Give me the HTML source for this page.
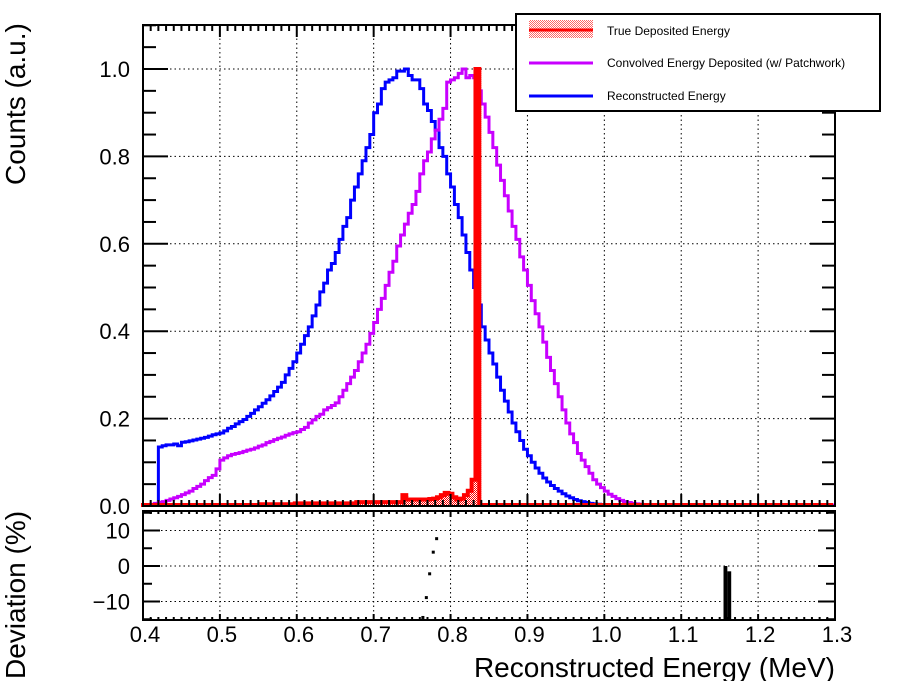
<!DOCTYPE html>
<html><head><meta charset="utf-8">
<style>
html,body{margin:0;padding:0;background:#fff;}
svg{display:block;font-family:"Liberation Sans",sans-serif;}
</style></head>
<body>
<svg id="chart" width="898" height="681" viewBox="0 0 898 681" xmlns="http://www.w3.org/2000/svg">
<defs>
<pattern id="hatch" width="2" height="2" patternUnits="userSpaceOnUse">
<rect width="2" height="2" fill="#fff"/><rect width="1" height="1" fill="#f00"/><rect x="1" y="1" width="1" height="1" fill="#f00"/>
</pattern>
</defs>
<rect width="898" height="681" fill="#fff"/>
<g id="grid"></g>
<g id="hists"></g>
<g id="axes"></g>
<g id="legend">
<rect x="516" y="14" width="364" height="97" fill="#fff" stroke="#000" stroke-width="2"/>
<g>
<rect x="529" y="20" width="64" height="18" fill="url(#hatch)" opacity="0.6"/>
<line x1="529" y1="30" x2="593" y2="30" stroke="#f00" stroke-width="3"/>
<text x="607" y="35" font-size="12">True Deposited Energy</text>
</g>
<g>
<line x1="529" y1="63" x2="593" y2="63" stroke="#c800ff" stroke-width="3"/>
<text x="607" y="67" font-size="12">Convolved Energy Deposited (w/ Patchwork)</text>
</g>
<g>
<line x1="529" y1="96" x2="593" y2="96" stroke="#0000ff" stroke-width="3"/>
<text x="607" y="100" font-size="12">Reconstructed Energy</text>
</g>
</g>
<text x="25" y="185" font-size="28" transform="rotate(-90 25 185)">Counts (a.u.)</text>
<text x="25" y="679" font-size="28" transform="rotate(-90 25 679)">Deviation (%)</text>
<text x="835" y="677" font-size="28" text-anchor="end">Reconstructed Energy (MeV)</text>
</svg>
<script>
const binStart = 0.4, binWidth = 0.005;
const blueVals = [0,0,0,0,0.135,0.138,0.14,0.14,0.142,0.138,0.146,0.147,0.149,0.151,0.153,0.155,0.157,0.16,0.163,0.165,
0.167,0.172,0.178,0.182,0.188,0.193,0.198,0.205,0.212,0.22,0.227,0.235,0.243,0.252,0.262,0.272,0.283,0.3,0.315,0.33,
0.35,0.37,0.39,0.41,0.435,0.46,0.49,0.51,0.54,0.555,0.58,0.61,0.64,0.66,0.7,0.73,0.76,0.79,0.82,0.85,
0.9,0.92,0.955,0.97,0.975,0.98,0.995,0.995,1.0,0.985,0.975,0.975,0.955,0.92,0.905,0.88,0.86,0.82,0.8,0.76,
0.73,0.69,0.66,0.62,0.58,0.54,0.5,0.46,0.41,0.38,0.35,0.325,0.295,0.265,0.24,0.215,0.19,0.17,0.15,0.13,
0.115,0.1,0.087,0.075,0.064,0.055,0.047,0.04,0.034,0.028,0.023,0.019,0.015,0.012,0.01,0.008,0.006,0.005,0.004,0.003,
0.002,0.002,0.001,0.001,0,0,0,0,0,0,0,0,0,0,0,0,0,0,0,0,
0,0,0,0,0,0,0,0,0,0,0,0,0,0,0,0,0,0,0,0,
0,0,0,0,0,0,0,0,0,0,0,0,0,0,0,0,0,0,0,0];
const purpleVals = [0,0.002,0.004,0.006,0.008,0.01,0.013,0.016,0.019,0.022,0.026,0.03,0.034,0.04,0.045,0.05,0.058,0.065,0.07,0.085,
0.105,0.11,0.115,0.118,0.12,0.122,0.125,0.128,0.13,0.133,0.137,0.14,0.145,0.148,0.152,0.155,0.158,0.162,0.165,0.168,
0.17,0.175,0.18,0.19,0.197,0.205,0.21,0.22,0.225,0.23,0.236,0.25,0.265,0.28,0.295,0.31,0.33,0.35,0.37,0.395,
0.42,0.45,0.475,0.505,0.535,0.56,0.595,0.62,0.645,0.67,0.69,0.72,0.76,0.79,0.81,0.84,0.86,0.885,0.91,0.97,
0.975,0.98,0.99,1.0,0.98,0.985,0.98,0.95,0.92,0.89,0.855,0.82,0.78,0.745,0.71,0.675,0.64,0.61,0.57,0.54,
0.505,0.47,0.44,0.41,0.375,0.34,0.31,0.28,0.25,0.22,0.19,0.165,0.145,0.12,0.105,0.09,0.075,0.06,0.05,0.042,
0.034,0.027,0.022,0.017,0.013,0.01,0.008,0.006,0.005,0.004,0.003,0.002,0.001,0.001,0,0,0,0,0,0,
0,0,0,0,0,0,0,0,0,0,0,0,0,0,0,0,0,0,0,0,
0,0,0,0,0,0,0,0,0,0,0,0,0,0,0,0,0,0,0,0];
const redVals = [0,0,0,0,0,0,0.001,0.001,0.001,0.001,0.001,0.001,0.001,0.001,0.001,0.001,0.001,0.001,0.001,0.001,
0.001,0.001,0.001,0.001,0.001,0.001,0.001,0.001,0.001,0.001,0.001,0.004,0.004,0.004,0.004,0.004,0.004,0.004,0.004,0.004,
0.006,0.006,0.006,0.006,0.006,0.006,0.006,0.006,0.006,0.006,0.006,0.006,0.006,0.006,0.006,0.006,0.009,0.009,0.009,0.009,
0.009,0.009,0.009,0.009,0.009,0.009,0.009,0.009,0.025,0.015,0.015,0.015,0.015,0.015,0.015,0.016,0.017,0.02,0.025,0.03,
0.028,0.02,0.015,0.017,0.025,0.035,0.06,1.0,0,0,0,0,0,0,0,0,0,0,0,0,
0,0,0,0,0,0,0,0,0,0,0,0,0,0,0,0,0,0,0,0,
0,0,0,0,0,0,0,0,0,0,0,0,0,0,0,0,0,0,0,0,
0,0,0,0,0,0,0,0,0,0,0,0,0,0,0,0,0,0,0,0,
0,0,0,0,0,0,0,0,0,0,0,0,0,0,0,0,0,0,0,0];
const devX = [0.764,0.7685,0.7728,0.7775,0.7819];
const devY = [-14.5,-8.9,-2.2,3.9,7.7];
const devBarX = [1.155,1.16];
const devBarTop = [0,-1.5];
const xTicks = [0.4,0.5,0.6,0.7,0.8,0.9,1.0,1.1,1.2,1.3];
const xTickLabels = ["0.4","0.5","0.6","0.7","0.8","0.9","1.0","1.1","1.2","1.3"];
const yTicks = [0,0.2,0.4,0.6,0.8,1.0];
const yTickLabels = ["0.0","0.2","0.4","0.6","0.8","1.0"];
const devTicks = [-10,0,10];
const devTickLabels = ["\u221210","0","10"];

const L=143,R=835,T=25,B=506,T2=511,B2=620;
const xs = v => L + (v-0.4)/0.9*(R-L);
const ys = v => B - v*437;
const yd = v => 566 - v*3.55;
const NS="http://www.w3.org/2000/svg";
function mk(tag, attrs, parent){const e=document.createElementNS(NS,tag);for(const k in attrs)e.setAttribute(k,attrs[k]);parent.appendChild(e);return e;}
const grid=document.getElementById('grid'), hists=document.getElementById('hists'), axes=document.getElementById('axes');

xTicks.forEach((t,i)=>{
  if(i===0||i===xTicks.length-1) return;
  const g1=mk('line',{x1:xs(t),x2:xs(t),y1:T,y2:B,stroke:'#000','stroke-width':1,'stroke-dasharray':'1.5 3'},grid);
   
  const g2=mk('line',{x1:xs(t),x2:xs(t),y1:T2,y2:B2,stroke:'#000','stroke-width':1,'stroke-dasharray':'1.5 3'},grid);
   
});
yTicks.forEach(t=>{
  if(t===0) return;
  const g=mk('line',{x1:L,x2:R,y1:ys(t),y2:ys(t),stroke:'#000','stroke-width':1,'stroke-dasharray':'1.5 3'},grid);
   
});
devTicks.forEach(t=>{
  const g=mk('line',{x1:L,x2:R,y1:yd(t),y2:yd(t),stroke:'#000','stroke-width':1,'stroke-dasharray':'1.5 3'},grid);
   
});

function stepPath(vals){
  let d='';
  vals.forEach((v,i)=>{
    const x0=xs(binStart+i*binWidth), x1=xs(binStart+(i+1)*binWidth), y=Math.min(B-1,ys(v));
    d += (i===0?'M':'L')+x0+','+y+' L'+x1+','+y+' ';
  });
  return d;
}
let fd='M'+xs(binStart)+','+B+' ';
redVals.forEach((v,i)=>{const x0=xs(binStart+i*binWidth),x1=xs(binStart+(i+1)*binWidth);fd+='L'+x0+','+ys(v)+' L'+x1+','+ys(v)+' ';});
fd+='L'+xs(binStart+redVals.length*binWidth)+','+B+' Z';
const rf=mk('path',{d:fd,fill:'url(#hatch)',stroke:'none'},hists);
 
const bl=mk('path',{d:stepPath(blueVals),fill:'none',stroke:'#0000ff','stroke-width':3},hists);
 
const pu=mk('path',{d:stepPath(purpleVals),fill:'none',stroke:'#c800ff','stroke-width':3},hists);
 
const rd=mk('path',{d:stepPath(redVals),fill:'none',stroke:'#ff0000','stroke-width':4,transform:'translate(-2,0)'},hists);
 

devX.forEach((x,i)=>{
  const p=mk('rect',{x:xs(x)-1.5,y:yd(devY[i])-1.5,width:3,height:3,fill:'#000'},hists);
   
});
devBarX.forEach((x,i)=>{
  const y0=yd(devBarTop[i]);
  const b=mk('rect',{x:xs(x),y:y0,width:xs(x+binWidth)-xs(x),height:B2-y0,fill:'#000'},hists);
   
});

const f1=mk('rect',{x:L,y:T,width:R-L,height:B-T,fill:'none',stroke:'#000','stroke-width':2},axes);
 
const f2=mk('rect',{x:L,y:T2,width:R-L,height:B2-T2,fill:'none',stroke:'#000','stroke-width':2},axes);
 

for(let k=0;k<=90;k++){
  const v=0.4+k*0.01, x=xs(v), major=(k%10===0);
  const hm=major?12:6;
  mk('line',{x1:x,x2:x,y1:B,y2:B-hm,stroke:'#000','stroke-width':2},axes);
  mk('line',{x1:x,x2:x,y1:T,y2:T+hm,stroke:'#000','stroke-width':2},axes);
  const hl=major?6:3;
  mk('line',{x1:x,x2:x,y1:B2,y2:B2-hl,stroke:'#000','stroke-width':2},axes);
  mk('line',{x1:x,x2:x,y1:T2,y2:T2+hl,stroke:'#000','stroke-width':2},axes);
}
xTicks.forEach((t,i)=>{
  const tx=mk('text',{x:xs(t)+2,y:642,'font-size':22,'text-anchor':'middle'},axes);
  tx.textContent=xTickLabels[i];
   
});
for(let k=0;k<=22;k++){
  const v=k*0.05, y=ys(v), major=(k%4===0);
  if(y<T) continue;
  const w=major?25:13;
  mk('line',{x1:L,x2:L+w,y1:y,y2:y,stroke:'#000','stroke-width':2},axes);
  mk('line',{x1:R,x2:R-w,y1:y,y2:y,stroke:'#000','stroke-width':2},axes);
}
yTicks.forEach((t,i)=>{
  const tx=mk('text',{x:130,y:ys(t)+8,'font-size':22,'text-anchor':'end'},axes);
  tx.textContent=yTickLabels[i];
   
});
for(let v=-15;v<=15;v+=5){
  const y=yd(v); if(y<T2||y>B2) continue;
  const w=(v%10===0)?17:9;
  mk('line',{x1:L,x2:L+w,y1:y,y2:y,stroke:'#000','stroke-width':2},axes);
  mk('line',{x1:R,x2:R-w,y1:y,y2:y,stroke:'#000','stroke-width':2},axes);
}
devTicks.forEach((t,i)=>{
  const tx=mk('text',{x:130,y:yd(t)+8,'font-size':22,'text-anchor':'end'},axes);
  tx.textContent=devTickLabels[i];
   
});
</script>
</body></html>
